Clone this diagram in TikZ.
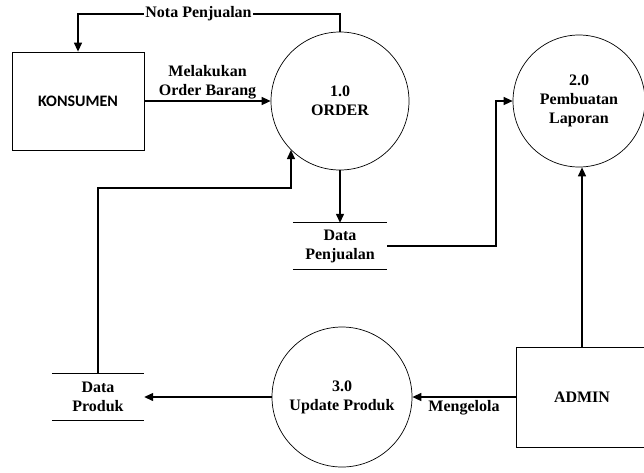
\documentclass[tikz,border=0pt]{standalone}
\usepackage{fontspec}
\setmainfont{Liberation Serif}[BoldFont={Liberation Serif Bold}]
\newfontfamily\konfont{Carlito}[BoldFont={Carlito Bold}]
\usetikzlibrary{arrows.meta,calc}
\begin{document}
\begin{tikzpicture}[x=1pt,y=-1pt,
  every node/.style={font=\bfseries\fontsize{16}{19}\selectfont},
  proc/.style={circle,draw,line width=0.7pt,align=center,inner sep=0pt},
  ent/.style={rectangle,draw,line width=0.8pt,align=center},
  store/.style={rectangle,align=center,inner sep=0pt},
  arr/.style={line width=1.3pt,-{Triangle[length=9pt,width=8pt]}},
  lbl/.style={align=center,inner sep=1pt}]
\useasboundingbox (0,0) rectangle (644,472);
% entities
\node[ent,minimum width=132pt,minimum height=98pt] (kons) at (78,101) {\konfont\bfseries\fontsize{16}{19}\selectfont KONSUMEN};
\node[ent,minimum width=132pt,minimum height=100pt] (admin) at (582,397) {ADMIN};
% processes
\node[proc,minimum size=138pt] (order) at (340,101) {1.0\\ORDER};
\node[proc,minimum size=132pt] (p2) at (579,101) {2.0\\Pembuatan\\Laporan};
\node[proc,minimum size=140pt] (p3) at (342,397) {3.0\\Update Produk};
% stores
\node[store,minimum width=94pt,minimum height=46pt] (dpenj) at (340,246) {Data\\Penjualan};
\draw[line width=0.7pt] (dpenj.north west) -- (dpenj.north east) (dpenj.south west) -- (dpenj.south east);
\node[store,minimum width=92pt,minimum height=46pt] (dprod) at (98,397) {Data\\Produk};
\draw[line width=0.7pt] (dprod.north west) -- (dprod.north east) (dprod.south west) -- (dprod.south east);
% helper coordinates
\coordinate (ytop) at (0,14);
\coordinate (ymid) at (0,188);
\coordinate (xr) at (496,0);
% connectors
\draw[arr] (order.north) -- (order.north |- ytop) -| node[pos=0.27,fill=white,lbl] {Nota Penjualan} (kons.north);
\draw[arr] (kons.east) -- node[above,lbl,yshift=0pt] {Melakukan\\Order Barang} (order.west);
\draw[arr] (dprod.north) |- (order.south west |- ymid) -- (order.south west);
\draw[arr] (order.south) -- (dpenj.north);
\draw[arr] (dpenj.east) -| (xr |- p2.west) -- (p2.west);
\draw[arr] (admin.north) -- (admin.north |- p2.south);
\draw[arr] (admin.west) -- node[below,lbl,yshift=-2pt] {Mengelola} (p3.east);
\draw[arr] (p3.west) -- (dprod.east);
\end{tikzpicture}
\end{document}
